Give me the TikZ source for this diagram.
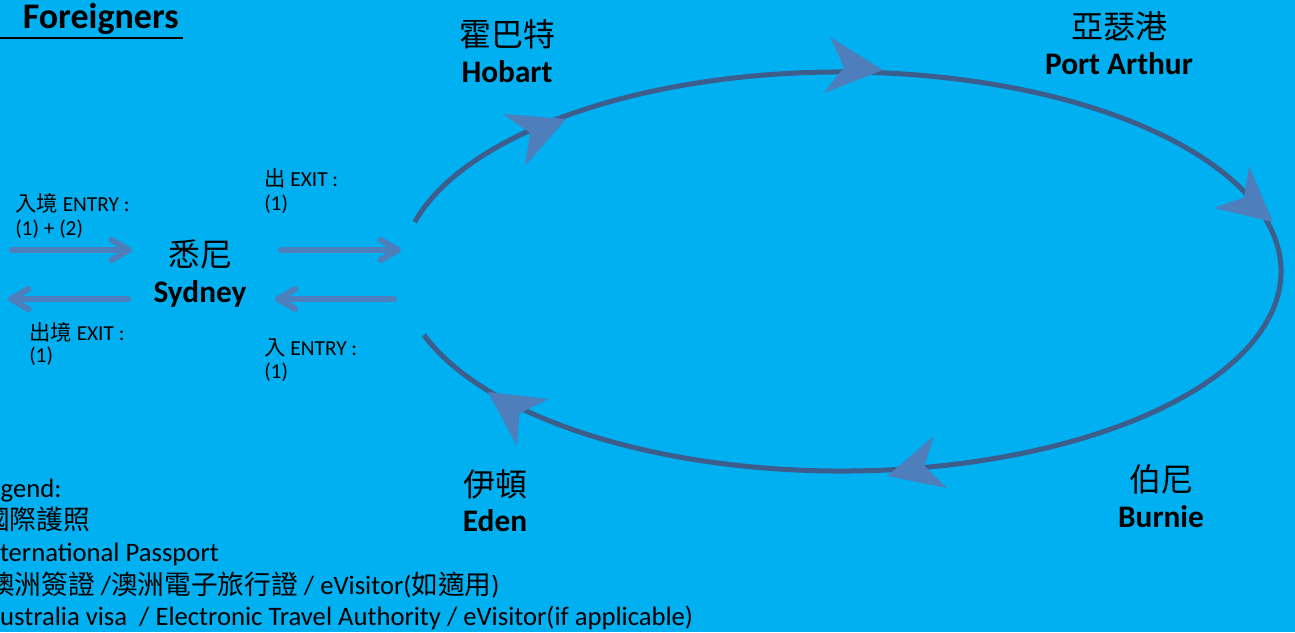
\documentclass[tikz,border=0pt]{standalone}
\usepackage{fontspec}
\setmainfont{Carlito}
\newfontfamily\cjk{Noto Sans CJK TC}
\newfontfamily\cjksc{Noto Sans CJK SC}
\usetikzlibrary{arrows.meta}
\definecolor{bgblue}{HTML}{00B0F0}
\definecolor{ringc}{HTML}{3D5E8C}
\definecolor{arrowc}{HTML}{4F7EBC}
\begin{document}
\begin{tikzpicture}[x=0.75pt,y=-0.75pt,
  zh/.style={font=\cjk\fontsize{24}{28}\selectfont,inner sep=0pt,anchor=base},
  en/.style={font=\bfseries\fontsize{23.5}{28}\selectfont,inner sep=0pt,anchor=base},
  lbl/.style={font=\fontsize{16}{18}\selectfont,inner sep=0pt,anchor=base west},
  leg/.style={font=\fontsize{20}{24}\selectfont,inner sep=0pt,anchor=base west},
  ring/.style={draw=ringc,line width=3.75pt},
  tiphead/.style={fill=arrowc},
  flow/.style={draw=arrowc,line width=4.5pt,line cap=round,-{Straight Barb[length=13pt,width=15pt,round]}}]
\fill[bgblue] (0,0) rectangle (1295,632);
\useasboundingbox (0,0) rectangle (1295,632);
\clip (0,0) rectangle (1295,632);

% title
\node[font=\cjksc\fontsize{27}{30}\selectfont,inner sep=0pt,anchor=base west] (tmark) at (-11.5,31) {、};
\node[font=\bfseries\fontsize{27}{30}\selectfont,inner sep=0pt,anchor=base west] (title) at (22.5,28.3) {Foreigners};
\coordinate (ul1) at (0,37.7);
\coordinate (ul2) at (183,37.7);
\draw[line width=1.5pt] (ul1) -- (ul2);

% ring
\coordinate (C) at (841,271.5);
\draw[ring] ([shift={(194.37:440 and 199.5)}]C) arc[start angle=194.37,end angle=521.44,x radius=440,y radius=199.5];

% arrowheads on ring
\fill[tiphead] (566,119) -- (503,114) -- (530,133) -- (525,166) -- cycle;
\fill[tiphead] (883,70) -- (830,37) -- (844,67) -- (824,93) -- cycle;
\fill[tiphead] (1273,222) -- (1249,166) -- (1244,197.5) -- (1214,208) -- cycle;
\fill[tiphead] (887,476) -- (934,436) -- (924.5,466) -- (947,488) -- cycle;
\fill[tiphead] (488,392) -- (549,399) -- (519.5,413.4) -- (517,446) -- cycle;

% cities
\node[zh] (sydzh) at (200,266) {悉尼};
\node[en] (syden) at (200,302) {Sydney};
\node[zh] (hobzh) at (507,46) {霍巴特};
\node[en] (hoben) at (507,82) {Hobart};
\node[zh] (pazh) at (1119,38) {亞瑟港};
\node[en] (paen) at (1119,74) {Port Arthur};
\node[zh] (buzh) at (1161,491) {伯尼};
\node[en] (buen) at (1161,527) {Burnie};
\node[zh] (edzh) at (495,496) {伊頓};
\node[en] (eden) at (495,531) {Eden};

% Sydney arrows
\coordinate (a1s) at (12,250);  \coordinate (a1e) at (132,250);
\coordinate (a2s) at (128,299); \coordinate (a2e) at (8,299);
\coordinate (a3s) at (281,250); \coordinate (a3e) at (401,250);
\coordinate (a4s) at (394,299); \coordinate (a4e) at (275,299);
\draw[flow] (a1s) -- (a1e);
\draw[flow] (a2s) -- (a2e);
\draw[flow] (a3s) -- (a3e);
\draw[flow] (a4s) -- (a4e);

% labels
\node[lbl] (l1a) at (15,211.7) {{\cjk 入境} ENTRY :};
\node[lbl] (l1b) at (15,235) {(1) + (2)};
\node[lbl] (l2a) at (29,340) {{\cjk 出境} EXIT :};
\node[lbl] (l2b) at (29,362) {(1)};
\node[lbl] (l3a) at (264,186) {{\cjk 出} EXIT :};
\node[lbl] (l3b) at (264,210) {(1)};
\node[lbl] (l4a) at (264,355) {{\cjk 入} ENTRY :};
\node[lbl] (l4b) at (264,378.3) {(1)};

% legend
\node[leg] (g0) at (-24,497) {Legend:};
\node[leg] (g1) at (-17,529) {\cjk 國際護照};
\node[leg] (g2) at (-20.7,561) {International Passport};
\node[leg] (g3) at (-12,594) {{\cjk 澳洲簽證} /{\cjk 澳洲電子旅行證} / eVisitor({\cjk 如適用})};
\node[leg] (g4) at (-15.5,625) {Australia visa\ \ / Electronic Travel Authority / eVisitor(if applicable)};
\end{tikzpicture}
\end{document}
